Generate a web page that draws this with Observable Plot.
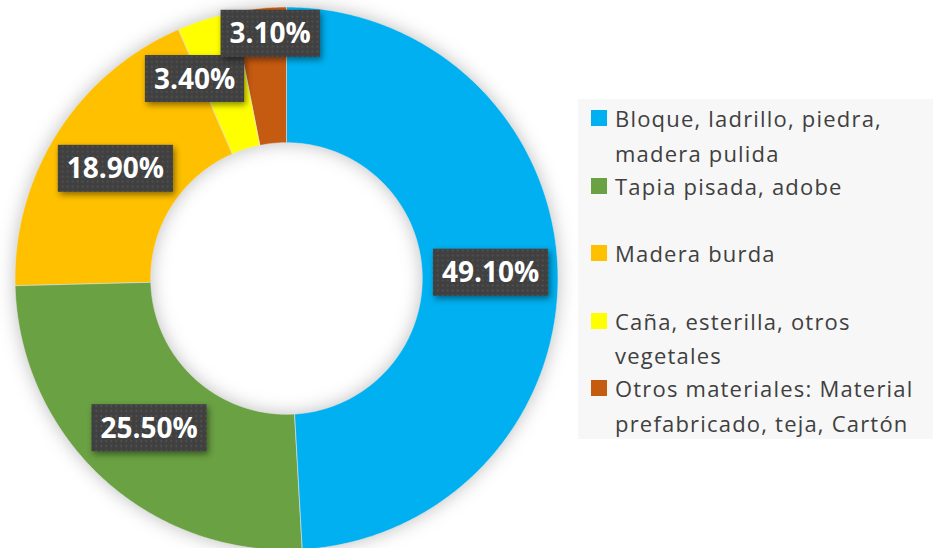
<!DOCTYPE html>
<html><head><meta charset="utf-8">
<script src="https://cdn.jsdelivr.net/npm/d3@7"></script>
<script src="https://cdn.jsdelivr.net/npm/@observablehq/plot@0.6"></script>
<style>
body{margin:0;background:#fff;}
#wrap{position:relative;width:933px;height:548px;overflow:hidden;font-family:"Open Sans",sans-serif;}
#chart{position:absolute;left:0;top:0;}
#legend{position:absolute;left:578px;top:99px;width:355px;height:340px;background:#f7f7f7;}
.item{position:absolute;left:13px;width:340px;}
.sw{position:absolute;left:0;top:9px;width:16px;height:16px;}
.lt{position:absolute;left:24px;width:318px;font-size:22px;letter-spacing:1.2px;line-height:34.5px;color:#404040;}
g[aria-label="area"]{filter:drop-shadow(0 0 9px rgba(0,0,0,0.25));}
</style>
</head><body>
<div id="wrap"><div id="chart"></div><div id="legend"></div></div>
<script>
const categories = [
  "Bloque, ladrillo, piedra, madera pulida",
  "Tapia pisada, adobe",
  "Madera burda",
  "Caña, esterilla, otros vegetales",
  "Otros materiales: Material prefabricado, teja, Cartón"
];
const values = [49.1, 25.5, 18.9, 3.4, 3.1];
const labels = ["49.10%", "25.50%", "18.90%", "3.40%", "3.10%"];
const colors = ["#00b0f0", "#6aa143", "#ffc000", "#ffff00", "#c55a11"];
const labelNudge = [[0,0],[0,0],[0,0],[-32,-5],[3,-42]];
const holeRatio = 0.5;

const arcs = d3.pie().sort(null).value(d => d)(values);
const ring = [];
arcs.forEach((a, i) => {
  const n = Math.max(2, Math.ceil((a.endAngle - a.startAngle) / (Math.PI / 360)));
  for (let k = 0; k <= n; k++) {
    const t = a.startAngle + (a.endAngle - a.startAngle) * k / n;
    ring.push({cat: categories[i], xi: holeRatio*Math.sin(t), yi: holeRatio*Math.cos(t), xo: Math.sin(t), yo: Math.cos(t)});
  }
});
const centroids = arcs.map((a, i) => {
  const t = (a.startAngle + a.endAngle) / 2, r = (1 + holeRatio) / 2;
  return {label: labels[i], x: r*Math.sin(t), y: r*Math.cos(t)};
});

const plot = Plot.plot({
  width: 933, height: 548, margin: 0,
  x: {domain: [-1, 1], range: [15, 558], axis: null},
  y: {domain: [-1, 1], range: [550, 7], axis: null},
  color: {domain: categories, range: colors},
  marks: [
    Plot.area(ring, {x1: "xo", y1: "yo", x2: "xi", y2: "yi", z: "cat", fill: "cat", stroke: "#e6e6e6", strokeWidth: 0.6}),
    ...centroids.map((c, i) => Plot.text([c], {
      x: "x", y: "y", text: "label", dx: labelNudge[i][0], dy: labelNudge[i][1],
      fill: "white", fontSize: 28, fontWeight: "bold", fontFamily: "Open Sans"
    }))
  ]
});
document.getElementById("chart").appendChild(plot);

const svg = d3.select(plot);
const defs = svg.insert("defs", ":first-child");
const pat = defs.append("pattern").attr("id", "dots").attr("patternUnits", "userSpaceOnUse").attr("width", 5).attr("height", 5);
pat.append("rect").attr("width", 5).attr("height", 5).attr("fill", "#404040");
pat.append("rect").attr("x", 1.5).attr("y", 1.5).attr("width", 1.6).attr("height", 1.6).attr("fill", "#575757");

svg.selectAll('g[aria-label="text"] text').each(function() {
  const bb = this.getBBox();
  const cy = bb.y + bb.height / 2 + 1;
  const r = document.createElementNS("http://www.w3.org/2000/svg", "rect");
  r.setAttribute("x", bb.x - 9);
  r.setAttribute("y", cy - 23.5);
  r.setAttribute("width", bb.width + 18);
  r.setAttribute("height", 47);
  r.setAttribute("fill", "url(#dots)");
  const tr = this.getAttribute("transform");
  if (tr) r.setAttribute("transform", tr);
  r.style.filter = "drop-shadow(2px 3px 3px rgba(0,0,0,0.45))";
  this.parentNode.insertBefore(r, this);
});

const legend = d3.select("#legend");
categories.forEach((c, i) => {
  const it = legend.append("div").attr("class", "item").style("top", (2 + 67.5 * i) + "px");
  it.append("span").attr("class", "sw").style("background", colors[i]);
  it.append("span").attr("class", "lt").text(c);
});
</script>
</body></html>
